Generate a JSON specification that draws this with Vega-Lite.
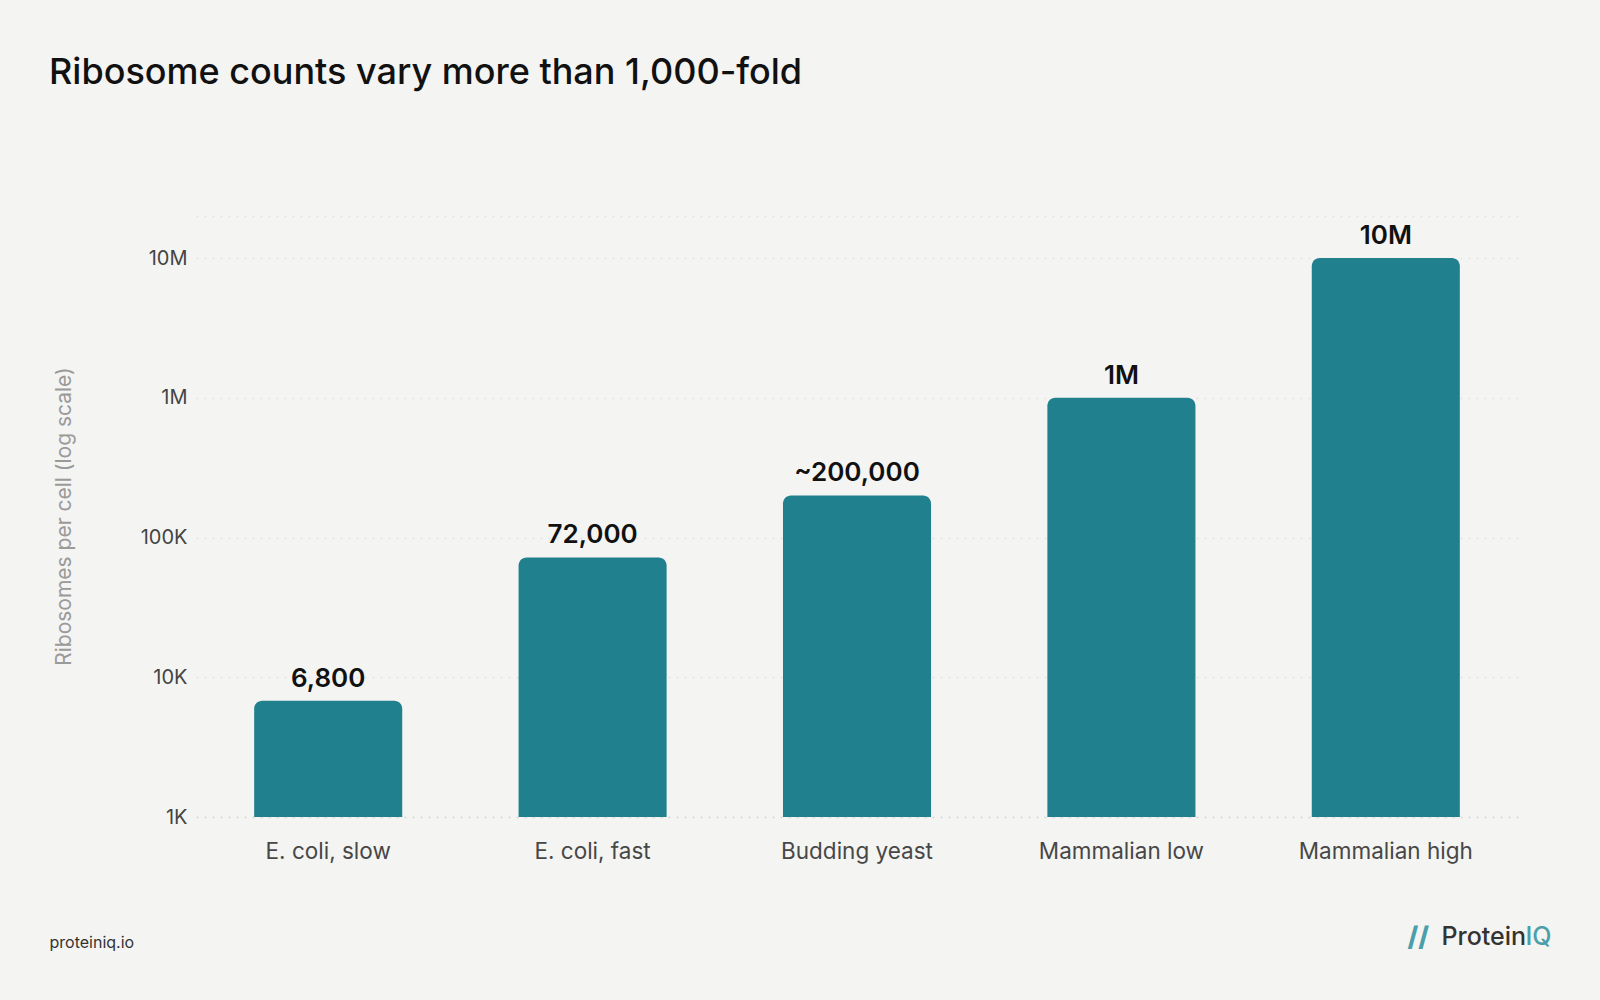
{
  "$schema": "https://vega.github.io/schema/vega-lite/v6.json",
  "width": 1322,
  "height": 601,
  "autosize": "none",
  "padding": {"left": 196, "top": 216, "right": 82, "bottom": 183},
  "background": "#f4f4f2",
  "config": {
    "view": {"stroke": null},
    "font": "Inter"
  },
  "title": {
    "text": "Ribosome counts vary more than 1,000-fold",
    "anchor": "start",
    "frame": "group",
    "dx": -147,
    "offset": 96,
    "baseline": "alphabetic",
    "fontSize": 36,
    "fontWeight": 500,
    "color": "#111111"
  },
  "data": {
    "values": [
      {"organism": "E. coli, slow", "count": 6800, "label": "6,800"},
      {"organism": "E. coli, fast", "count": 72000, "label": "72,000"},
      {"organism": "Budding yeast", "count": 200000, "label": "~200,000"},
      {"organism": "Mammalian low", "count": 1000000, "label": "1M"},
      {"organism": "Mammalian high", "count": 10000000, "label": "10M"}
    ]
  },
  "encoding": {
    "x": {
      "field": "organism",
      "type": "nominal",
      "sort": null,
      "scale": {"paddingInner": 0.44, "paddingOuter": 0.22}
    },
    "y": {
      "field": "count",
      "type": "quantitative",
      "scale": {"type": "log", "domain": [1000, 20000000], "nice": false}
    }
  },
  "layer": [
    {
      "mark": {
        "type": "bar",
        "color": "#21808d",
        "cornerRadiusTopLeft": 8,
        "cornerRadiusTopRight": 8
      },
      "encoding": {
        "x": {
          "field": "organism",
          "type": "nominal",
          "sort": null,
          "axis": {
            "orient": "bottom",
            "labelAngle": 0,
            "labelFontSize": 22.5,
            "labelColor": "#474747",
            "labelPadding": 23,
            "ticks": false,
            "domain": false,
            "title": "proteiniq.io",
            "titleFontSize": 16,
            "titleFontWeight": 400,
            "titleColor": "#333333",
            "titleAlign": "left",
            "titleBaseline": "alphabetic",
            "titleX": -147,
            "titleY": 130
          }
        },
        "y": {
          "field": "count",
          "type": "quantitative",
          "axis": {
            "orient": "left",
            "values": [1000, 10000, 100000, 1000000, 10000000, 20000000],
            "labelExpr": "datum.value == 1000 ? '1K' : datum.value == 10000 ? '10K' : datum.value == 100000 ? '100K' : datum.value == 1000000 ? '1M' : datum.value == 10000000 ? '10M' : ''",
            "labelFontSize": 20,
            "labelColor": "#444444",
            "labelPadding": 9,
            "ticks": false,
            "domain": false,
            "grid": true,
            "gridDash": [2, 6],
            "gridColor": {"condition": {"test": "datum.value == 1000", "value": "#d6d6d6"}, "value": "#e3e3e1"},
            "gridWidth": 1.5,
            "title": "Ribosomes per cell (log scale)",
            "titleFontSize": 21,
            "titleFontWeight": 400,
            "titleColor": "#9a9a9a",
            "titleAngle": -90,
            "titleAlign": "center",
            "titleBaseline": "middle",
            "titleX": -132,
            "titleY": 300
          }
        },
        "y2": {"datum": 1000}
      }
    },
    {
      "mark": {
        "type": "text",
        "baseline": "alphabetic",
        "dy": -14,
        "fontSize": 26,
        "fontWeight": 600,
        "color": "#111111"
      },
      "encoding": {
        "x": {
          "field": "organism",
          "type": "nominal",
          "sort": null,
          "axis": {
            "orient": "top",
            "labels": false,
            "ticks": false,
            "domain": false,
            "grid": false,
            "title": "Protein",
            "titleFontSize": 25,
            "titleFontWeight": 500,
            "titleColor": "#333333",
            "titleAlign": "left",
            "titleBaseline": "alphabetic",
            "titleX": 1245,
            "titleY": 728
          }
        },
        "y": {
          "field": "count",
          "type": "quantitative",
          "axis": {
            "orient": "right",
            "labels": false,
            "ticks": false,
            "domain": false,
            "grid": false,
            "title": "IQ",
            "titleAngle": 0,
            "titleFontSize": 25,
            "titleFontWeight": 500,
            "titleColor": "#4a9fab",
            "titleAlign": "left",
            "titleBaseline": "alphabetic",
            "titleX": 7,
            "titleY": 728
          }
        },
        "text": {"field": "label"}
      }
    },
    {
      "mark": {"type": "text", "text": ""},
      "encoding": {
        "x": {
          "field": "organism",
          "type": "nominal",
          "sort": null,
          "axis": {
            "orient": "top",
            "labels": false,
            "ticks": false,
            "domain": false,
            "grid": false,
            "title": "//",
            "titleFontSize": 27,
            "titleFontWeight": 800,
            "titleColor": "#4a9fab",
            "titleAlign": "left",
            "titleBaseline": "alphabetic",
            "titleX": 1211,
            "titleY": 729
          }
        },
        "y": {"field": "count", "type": "quantitative", "axis": null}
      }
    }
  ],
  "resolve": {"axis": {"x": "independent", "y": "independent"}}
}
